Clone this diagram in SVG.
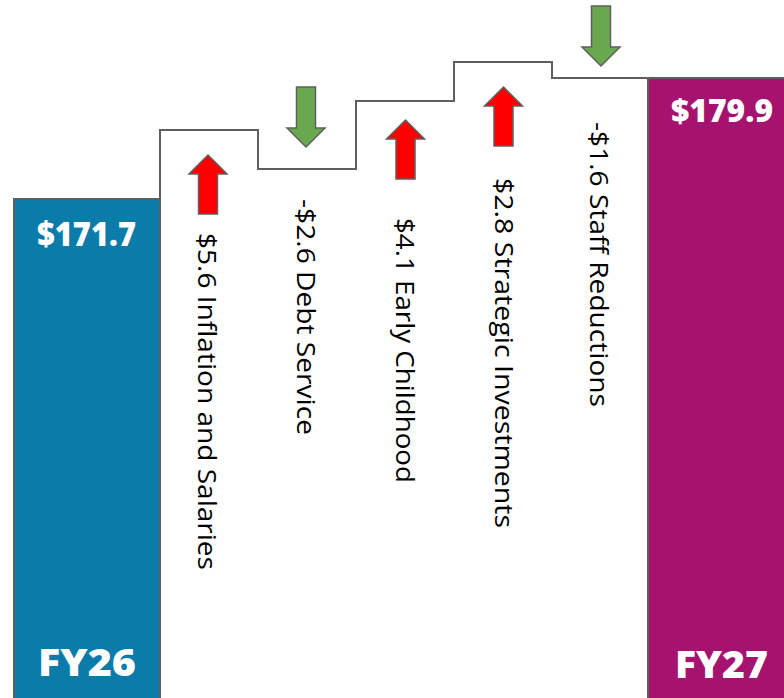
<svg xmlns="http://www.w3.org/2000/svg" width="784" height="698" viewBox="0 0 784 698">
<style>
.bar-line{fill:none;stroke:#5f5f5f;stroke-width:2}
.up{fill:#ff0000;stroke:#5f5f5f;stroke-width:1.5}
.down{fill:#6aa84f;stroke:#5f5f5f;stroke-width:1.5}
.lbl{font-family:"Open Sans","Noto Sans",sans-serif;font-size:26px;fill:#000}
.val{font-family:"Open Sans","Noto Sans",sans-serif;font-weight:800;fill:#fff;text-anchor:start}
</style>
<defs>
<path id="upArrow" d="M0,0 L19,19 L9.5,19 L9.5,59 L-9.5,59 L-9.5,19 L-19,19 Z"/>
<path id="downArrow" d="M0,0 L-19,-19 L-9.5,-19 L-9.5,-60 L9.5,-60 L9.5,-19 L19,-19 Z"/>
</defs>
<rect width="784" height="698" fill="#fff"/>
<g id="fy26">
<rect x="14" y="199" width="146" height="500" fill="#0b7baa"/>
<path class="bar-line" d="M14,699 V199 H160 V699"/>
<text class="val" x="37" y="246" font-size="33" textLength="99" lengthAdjust="spacingAndGlyphs">$171.7</text>
<text class="val" x="38" y="676" font-size="37" textLength="98" lengthAdjust="spacingAndGlyphs">FY26</text>
</g>
<g id="fy27">
<rect x="648" y="78" width="137" height="621" fill="#a6136f"/>
<path class="bar-line" d="M648,699 V78 H785"/>
<text class="val" x="671" y="122" font-size="32" textLength="102" lengthAdjust="spacingAndGlyphs">$179.9</text>
<text class="val" x="675" y="678" font-size="37" textLength="93" lengthAdjust="spacingAndGlyphs">FY27</text>
</g>
<g id="connectors">
<path class="bar-line" d="M160,199 V130 H258 V169 H356 V101 H454 V62 H552 V78 H648"/>
</g>
<g id="inflation">
<use href="#upArrow" class="up" x="208" y="155"/>
<text class="lbl" transform="translate(198,233) rotate(90)" textLength="337" lengthAdjust="spacingAndGlyphs">$5.6 Inflation and Salaries</text>
</g>
<g id="debt">
<use href="#downArrow" class="down" x="306" y="147"/>
<text class="lbl" transform="translate(297,199) rotate(90)" textLength="236" lengthAdjust="spacingAndGlyphs">-$2.6 Debt Service</text>
</g>
<g id="early">
<use href="#upArrow" class="up" x="405.5" y="120"/>
<text class="lbl" transform="translate(396,218) rotate(90)" textLength="265" lengthAdjust="spacingAndGlyphs">$4.1 Early Childhood</text>
</g>
<g id="strategic">
<use href="#upArrow" class="up" x="503.5" y="87"/>
<text class="lbl" transform="translate(495,178) rotate(90)" textLength="350" lengthAdjust="spacingAndGlyphs">$2.8 Strategic Investments</text>
</g>
<g id="staff">
<use href="#downArrow" class="down" x="601" y="66"/>
<text class="lbl" transform="translate(590,122) rotate(90)" textLength="285" lengthAdjust="spacingAndGlyphs">-$1.6 Staff Reductions</text>
</g>
</svg>
